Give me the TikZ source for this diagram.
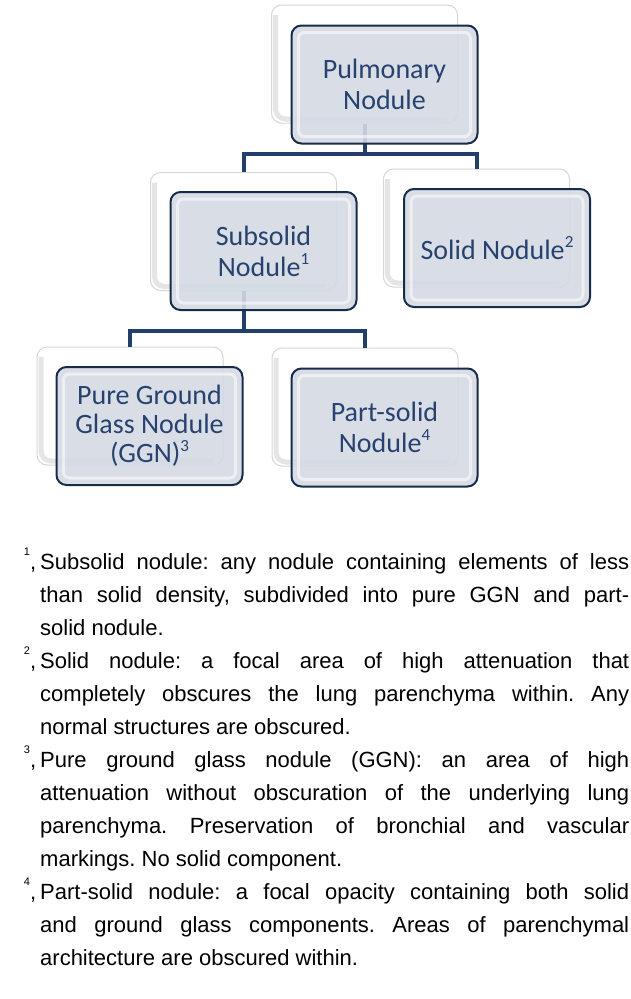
\documentclass[tikz,border=0pt]{standalone}
\usepackage{fontspec}
\newfontfamily\cajafont{Carlito}
\newfontfamily\notafont{Liberation Sans}

\definecolor{azultexto}{RGB}{40,66,112}
\definecolor{azulborde}{RGB}{24,44,74}
\definecolor{azullinea}{RGB}{34,62,106}
\definecolor{grisazul}{RGB}{212,218,228}

% Superindices
\newcommand{\supnum}[1]{\raisebox{.42em}{\fontsize{17}{17}\selectfont #1}}
\newcommand{\notamark}[1]{\leavevmode\llap{\raisebox{.62em}{\fontsize{11}{11}\selectfont #1},\hspace{4pt}}}

\tikzset{
  fondo/.style={rectangle, rounded corners=10pt, minimum width=186pt, minimum height=118pt,
    fill=white, draw=black!16, line width=1pt,
    path picture={\draw[black!10, line width=5pt]
      ([shift={(4pt,-10pt)}]path picture bounding box.north west) --
      ([shift={(4pt,4pt)}]path picture bounding box.south west) --
      ([shift={(-10pt,4pt)}]path picture bounding box.south east);}},
  caja/.style={rectangle, rounded corners=10pt, minimum width=186pt, minimum height=118pt,
    draw=azulborde, line width=2pt, fill=grisazul, fill opacity=.9, text opacity=1,
    text=azultexto, align=center, font={\cajafont\fontsize{28}{31}\selectfont},
    path picture={\draw[white, opacity=.55, line width=3pt, rounded corners=6pt]
      ([shift={(7pt,-7pt)}]path picture bounding box.north west) rectangle
      ([shift={(-7pt,7pt)}]path picture bounding box.south east);}},
  rama/.style={draw=azullinea, line width=4pt},
  nota/.style={anchor=north west, text width=589pt, align=justify, inner sep=0pt,
    font={\notafont\fontsize{22}{33}\selectfont\frenchspacing\hbadness=10000}}
}

\begin{document}
\begin{tikzpicture}[x=1pt, y=-1pt]
    \fill[white] (0,0) rectangle (630,999);
    \useasboundingbox (0,0) rectangle (630,999);

    % Cajas de fondo
    \node[fondo] (pulmF) at (364.5,64) {};
    \node[fondo] (subF) at (243.5,231.5) {};
    \node[fondo] (solF) at (476.5,228) {};
    \node[fondo] (ggnF) at (130,406) {};
    \node[fondo] (partF) at (365,407) {};

    % Ramas
    \draw[rama] (pulmF.south) -- ++(0,30) coordinate (b1);
    \draw[rama] (subF.north) |- (b1) -| (solF.north);
    \draw[rama] (subF.south) -- ++(0,39.5) coordinate (b2);
    \draw[rama] (ggnF.north) |- (b2) -| (partF.north);

    % Cajas
    \node[caja] (pulm) at (384.5,84.5) {Pulmonary\\Nodule};
    \node[caja] (sub) at (263.5,251) {Subsolid\\Nodule\supnum{1}};
    \node[caja] (sol) at (497,248) {Solid Nodule\supnum{2}};
    \node[caja, font={\cajafont\fontsize{28}{29}\selectfont}] (ggn) at (149.5,426)
        {Pure Ground\\Glass Nodule\\(GGN)\supnum{3}};
    \node[caja] (part) at (384.5,427.5) {Part-solid\\Nodule\supnum{4}};

    % Notas
    \node[nota] (notas) at (40,548) {%
      \notamark{1}Subsolid nodule: any nodule containing elements of less\linebreak
      than solid density, subdivided into pure GGN and part-\linebreak solid nodule.\par
      \notamark{2}Solid nodule: a focal area of high attenuation that\linebreak
      completely obscures the lung parenchyma within. Any\linebreak
      normal structures are obscured.\par
      \notamark{3}Pure ground glass nodule (GGN): an area of high\linebreak
      attenuation without obscuration of the underlying lung\linebreak
      parenchyma. Preservation of bronchial and vascular\linebreak
      markings. No solid component.\par
      \notamark{4}Part-solid nodule: a focal opacity containing both solid\linebreak
      and ground glass components. Areas of parenchymal\linebreak
      architecture are obscured within.};
\end{tikzpicture}
\end{document}
